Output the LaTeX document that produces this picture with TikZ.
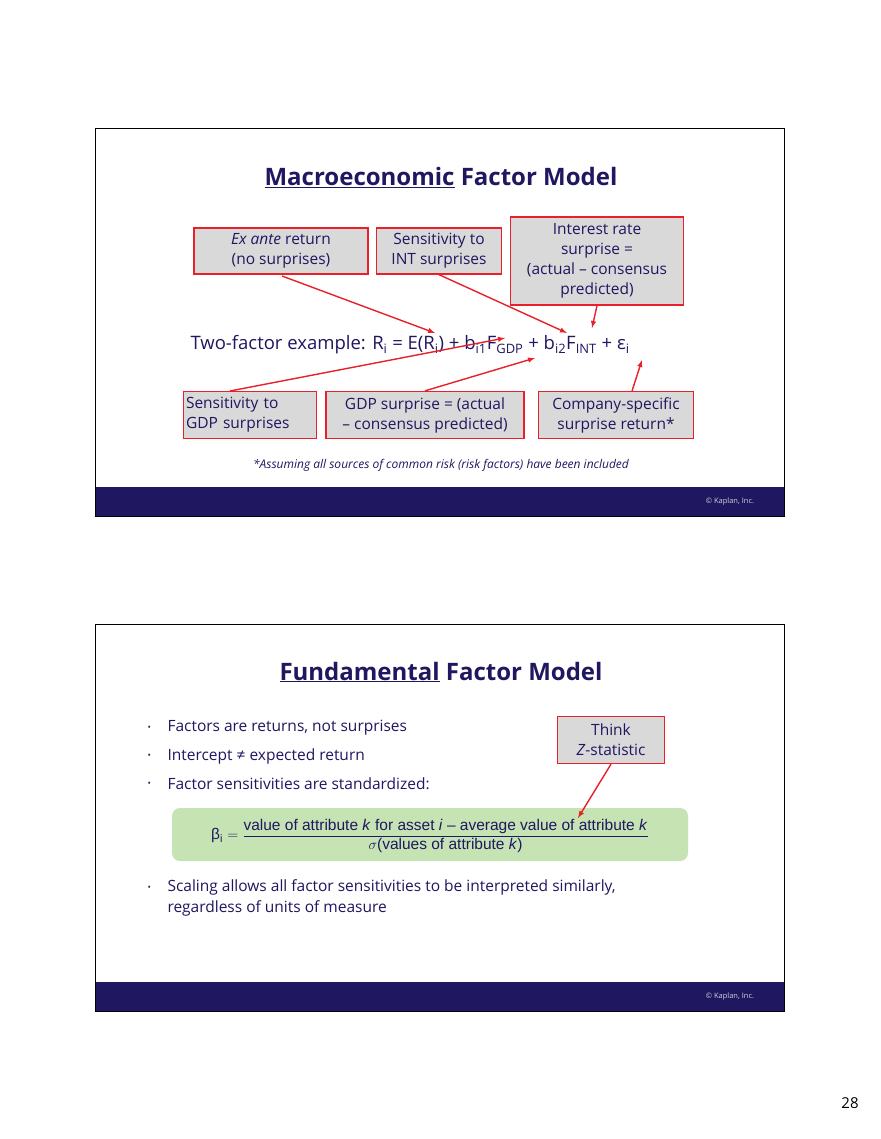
\documentclass[tikz,border=0pt]{standalone}
\usepackage{fontspec}
\setmainfont{Open Sans}
\newfontfamily\arialf{Liberation Sans}
\usetikzlibrary{positioning}
\definecolor{navy}{HTML}{1F1760}
\definecolor{kred}{HTML}{E8202A}
\definecolor{kgray}{HTML}{D9D9D9}
\definecolor{kgreen}{HTML}{C6E3B4}
\begin{document}
\begin{tikzpicture}[x=1pt,y=-1pt]
			\tikzstyle{slide} = [draw=black, line width=0.8pt]
			\tikzstyle{bar} = [fill=navy]
			\tikzstyle{note} = [draw=kred, line width=1.3pt, fill=kgray, align=center, text=navy, font=\fontsize{15.5}{20}\selectfont, inner sep=2pt]
			\tikzstyle{ttl} = [text=navy, font=\fontsize{24}{28}\selectfont\bfseries]
			\tikzstyle{arr} = [->, >=latex, draw=kred, line width=1.4pt]
			\tikzstyle{copy} = [text=white!80!navy, font=\fontsize{7.5}{9}\selectfont]
			\tikzstyle{bul} = [anchor=west, text=navy, font=\fontsize{15.5}{21}\selectfont, align=left]
			\useasboundingbox (0,0) rectangle (880,1139);
			\fill[white] (0,0) rectangle (880,1139);
			% first slide
			\fill[bar] (95,487) rectangle (784,516);
			\draw[slide] (95,128) rectangle (784,516);
			\node[copy] (copy-a) at (730,502) {© Kaplan, Inc.};
			\node[ttl] (title-a) at (441,178) {\underline{Macroeconomic} Factor Model};
			\node[note, minimum width=174pt, minimum height=46pt] (exante) at (281,251) {\textit{Ex ante} return\\(no surprises)};
			\node[note, minimum width=125pt, minimum height=46pt] (sens-int) at (439,251) {Sensitivity to\\INT surprises};
			\node[note, minimum width=173pt, minimum height=88pt] (int-surp) at (597,261) {Interest rate\\surprise =\\(actual – consensus\\predicted)};
			\node[anchor=west, text=navy, font=\fontsize{18.5}{22}\selectfont] (eq) at (187,345)
				{Two-factor example: R\textsubscript{i} = E(R\textsubscript{i}) + b\textsubscript{i1}F\textsubscript{GDP} + b\textsubscript{i2}F\textsubscript{INT} + ε\textsubscript{i}};
			\node[note, align=left, minimum width=133pt, minimum height=47pt, text width=128pt] (sens-gdp) at (250,415) {Sensitivity to\\GDP surprises};
			\node[note, minimum width=198pt, minimum height=47pt] (gdp-surp) at (425,415) {GDP surprise = (actual\\– consensus predicted)};
			\node[note, minimum width=155pt, minimum height=47pt] (company) at (616,415) {Company-specific\\surprise return*};
			\node[text=navy, font=\fontsize{12}{14}\selectfont\itshape] (foot-a) at (441,465) {*Assuming all sources of common risk (risk factors) have been included};
			\coordinate (p-er) at (435,333);
			\coordinate (p-bi2) at (567,333);
			\coordinate (p-fint) at (592,328);
			\coordinate (p-bi1) at (505,338);
			\coordinate (p-fgdp) at (535,358);
			\coordinate (p-eps) at (642,360);
			\draw[arr] (282,276) -- (p-er);
			\draw[arr] (sens-int.south) -- (p-bi2);
			\draw[arr] (int-surp.south) -- (p-fint);
			\draw[arr] (230,391) -- (p-bi1);
			\draw[arr] (gdp-surp.north) -- (p-fgdp);
			\draw[arr] (632,391) -- (p-eps);
			% second slide
			\fill[bar] (95,982) rectangle (784,1011);
			\draw[slide] (95,624) rectangle (784,1011);
			\node[copy] (copy-b) at (730,997) {© Kaplan, Inc.};
			\node[ttl] (title-b) at (441,672) {\underline{Fundamental} Factor Model};
			\foreach \y/\t in {728/{Factors are returns, not surprises}, 756/Intercept ≠ expected return, 784/Factor sensitivities are standardized:} {
				\node[bul, font=\fontsize{9}{10}\selectfont] at (144,\y) {•};
				\node[bul] at (164,\y) {\t};
			}
			\node[note, minimum width=107pt, minimum height=47pt] (think) at (611,740) {Think\\\textit{Z}-statistic};
			\fill[kgreen, rounded corners=8pt] (172,808) rectangle (688,861);
			\node[text=navy, font=\arialf\fontsize{15.5}{18}\selectfont] (beta) at (430,836)
				{β\textsubscript{i} $=\displaystyle\frac{\mbox{\arialf value of attribute \textit{k} for asset \textit{i} – average value of attribute \textit{k}}}{\sigma\mbox{\arialf (values of attribute \textit{k})}}$};
			\draw[arr] (think.south) -- (578,818);
			\node[bul, font=\fontsize{9}{10}\selectfont] at (144,888) {•};
			\node[bul, anchor=north west] (scaling) at (164,876) {Scaling allows all factor sensitivities to be interpreted similarly,\\regardless of units of measure};
			\node[font=\fontsize{15}{18}\selectfont] (pagenum) at (850,1103) {28};
\end{tikzpicture}
\end{document}
